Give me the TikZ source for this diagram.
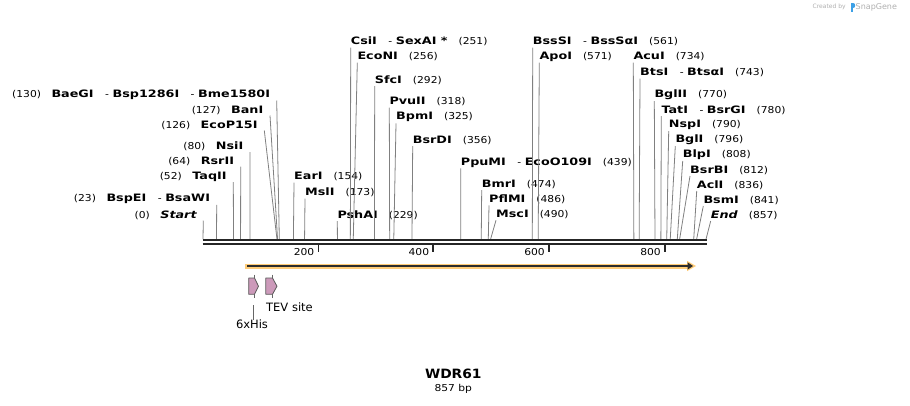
\documentclass[tikz,border=0pt]{standalone}
\usepackage{fontspec}
\setmainfont{DejaVu Sans}
\newfontfamily\namefont{DejaVu Sans}[FakeStretch=1.25]
\newfontfamily\numfont{DejaVu Sans}[FakeStretch=1.13]
\newfontfamily\titlefont{DejaVu Sans}[FakeStretch=1.08]
\definecolor{sitegray}{RGB}{128,128,128}
\definecolor{featorange}{RGB}{255,204,120}
\definecolor{featdark}{RGB}{45,45,45}
\definecolor{featpink}{RGB}{204,154,186}
\definecolor{logogray}{RGB}{175,175,175}
\definecolor{logoblue}{RGB}{60,160,230}
\tikzset{
  lab/.style={font=\numfont\fontsize{9.5}{11}\selectfont, inner sep=0pt},
  siteline/.style={draw=sitegray, line width=0.8pt},
  backbone/.style={draw=black!85, line width=2pt},
  tickmark/.style={draw=black!85, line width=1.8pt},
  featbox/.style={draw=black!65, fill=featpink, line width=0.8pt, line join=round},
  featleg/.style={draw=black!60, line width=0.7pt},
}
\newcommand{\nm}[1]{{\namefont\fontsize{10.2}{11}\selectfont\bfseries #1}}
\newcommand{\nmi}[1]{{\namefont\fontsize{10.2}{11}\selectfont\bfseries\itshape #1}}
\newcommand{\gN}{\hspace{11pt}}
\newcommand{\gL}{\hspace{10.5pt}}
\newcommand{\gD}{\hspace{11.5pt}-\hspace{3.5pt}}
% right-side site: id, top x, text y, bp, text
\newcommand{\rsite}[5]{%
  \node[lab, anchor=west] (#1) at (#2,#3) {#5};
  \coordinate (#1b) at ({203+0.587*#4},239);
  \draw[siteline] (#1.west) ++(0,6) -- (#1b);
}
% left-side site: id, top x, text y, bp, text
\newcommand{\lsite}[5]{%
  \node[lab, anchor=east] (#1) at ({#2-6.5},#3) {#5};
  \coordinate (#1b) at ({203+0.587*#4},239);
  \draw[siteline] (#1.east) ++(6.5,5.5) -- (#1b);
}
\begin{document}
\begin{tikzpicture}[x=1pt,y=-1pt]
\useasboundingbox (0,0) rectangle (910,405);
% SnapGene mark
\node[font=\fontsize{6}{7}\selectfont, text=logogray, anchor=west, inner sep=0pt] (created) at (812.5,7) {Created by};
\fill[logoblue] (850.5,3) rectangle (852.5,11.5);
\fill[logoblue] (852.5,3) .. controls (856,3) and (856,8) .. (852.5,8) -- cycle;
\node[font=\fontsize{8}{9}\selectfont, text=logogray, anchor=west, inner sep=0pt] (snapgene) at (855.5,7) {SnapGene};
% left sites
\lsite{sStart}{203.3}{215}{0}{(0)\gL\nmi{Start}}
\lsite{sBspEI}{216.7}{199.3}{23}{(23)\gL\nm{BspEI}\gD\nm{BsaWI}}
\lsite{sTaqII}{233.3}{176.7}{52}{(52)\gL\nm{TaqII}}
\lsite{sRsrII}{240.7}{161}{64}{(64)\gL\nm{RsrII}}
\lsite{sNsiI}{250}{146.7}{80}{(80)\gL\nm{NsiI}}
\lsite{sEcoP}{264.3}{125}{126}{(126)\gL\nm{EcoP15I}}
\lsite{sBanI}{270}{110}{127}{(127)\gL\nm{BanI}}
\lsite{sBaeGI}{276.7}{95}{130}{(130)\gL\nm{BaeGI}\gD\nm{Bsp1286I}\gD\nm{Bme1580I}}
% right sites
\rsite{sEarI}{294}{176.7}{154}{\nm{EarI}\gN(154)}
\rsite{sMslI}{305}{192.7}{173}{\nm{MslI}\gN(173)}
\rsite{sPshAI}{337.3}{215}{229}{\nm{PshAI}\gN(229)}
\rsite{sCsiI}{350.7}{41.7}{251}{\nm{CsiI}\gD\nm{SexAI *}\gN(251)}
\rsite{sEcoNI}{357.3}{56.7}{256}{\nm{EcoNI}\gN(256)}
\rsite{sSfcI}{374.7}{80}{292}{\nm{SfcI}\gN(292)}
\rsite{sPvuII}{389.3}{101.7}{318}{\nm{PvuII}\gN(318)}
\rsite{sBpmI}{396}{117.3}{325}{\nm{BpmI}\gN(325)}
\rsite{sBsrDI}{412.7}{140}{356}{\nm{BsrDI}\gN(356)}
\rsite{sPpuMI}{460.7}{162.3}{439}{\nm{PpuMI}\gD\nm{EcoO109I}\gN(439)}
\rsite{sBmrI}{481.7}{184}{474}{\nm{BmrI}\gN(474)}
\rsite{sPflMI}{489}{199.3}{486}{\nm{PflMI}\gN(486)}
\rsite{sMscI}{496}{214.3}{490}{\nm{MscI}\gN(490)}
\rsite{sBssSI}{532.7}{41.7}{561}{\nm{BssSI}\gD\nm{BssSαI}\gN(561)}
\rsite{sApoI}{539.3}{56.7}{571}{\nm{ApoI}\gN(571)}
\rsite{sAcuI}{633.3}{56.7}{734}{\nm{AcuI}\gN(734)}
\rsite{sBtsI}{640}{72.7}{743}{\nm{BtsI}\gD\nm{BtsαI}\gN(743)}
\rsite{sBglII}{654.3}{95}{770}{\nm{BglII}\gN(770)}
\rsite{sTatI}{661.3}{110}{780}{\nm{TatI}\gD\nm{BsrGI}\gN(780)}
\rsite{sNspI}{668.7}{125}{790}{\nm{NspI}\gN(790)}
\rsite{sBglI}{675.3}{140}{796}{\nm{BglI}\gN(796)}
\rsite{sBlpI}{682.7}{155}{808}{\nm{BlpI}\gN(808)}
\rsite{sBsrBI}{690}{170}{812}{\nm{BsrBI}\gN(812)}
\rsite{sAclI}{696.7}{185}{836}{\nm{AclI}\gN(836)}
\rsite{sBsmI}{703.3}{200}{841}{\nm{BsmI}\gN(841)}
\rsite{sEnd}{710.7}{215}{857}{\nmi{End}\gN(857)}
% backbone
\coordinate (bbL) at (202.5,239.7);
\coordinate (bbR) at (706.8,239.7);
\draw[backbone] (bbL) -- (bbR);
\draw[backbone] ([yshift=-3.8pt]bbL) -- ([yshift=-3.8pt]bbR);
% ticks
\foreach \tx/\tl in {318.5/200, 433.3/400, 549/600, 665/800}{
  \draw[tickmark] (\tx,244) -- (\tx,252);
  \node[lab, anchor=east] (t\tl) at (\tx-4,252.5) {\tl};
}
% feature arrow
\coordinate (fS) at (245,266);
\coordinate (fE) at (689,266);
\draw[featorange, line width=5pt] (fS) -- (fE);
\fill[featorange] (687,260.8) -- (696,266) -- (687,271.2) -- cycle;
\draw[featdark, line width=1.8pt] ([xshift=2pt]fS) -- (fE);
\fill[featdark] (687.5,262.3) -- (693,266) -- (687.5,269.7) -- cycle;
% 6xHis
\draw[featbox] (248.7,278) -- (254.5,278) -- (258.5,286.2) -- (254.5,294.3) -- (248.7,294.3) -- cycle;
\draw[featleg] (254.5,274.5) -- (254.5,278);
\draw[featleg] (254.5,294.3) -- (254.5,298);
% TEV site
\draw[featbox] (265.8,278) -- (272.5,278) -- (277,286.2) -- (272.5,294.3) -- (265.8,294.3) -- cycle;
\draw[featleg] (272.5,274.5) -- (272.5,278);
\draw[featleg] (272.5,294.3) -- (272.5,298);
\node[font=\fontsize{11.5}{13}\selectfont, inner sep=0pt, anchor=west] (tev) at (266,307.7) {TEV site};
\node[font=\fontsize{11.5}{13}\selectfont, inner sep=0pt] (his) at (252,324) {6xHis};
\coordinate (hisTop) at (253.3,305);
\draw[featleg] (hisTop) -- ([yshift=-1pt]his.north -| hisTop);
% title
\node[font=\titlefont\fontsize{12.8}{14}\selectfont\bfseries, inner sep=0pt] (title) at (453.3,374) {WDR61};
\node[font=\numfont\fontsize{9.5}{11}\selectfont, inner sep=0pt] (len) at (453.3,389) {857 bp};
\end{tikzpicture}
\end{document}
